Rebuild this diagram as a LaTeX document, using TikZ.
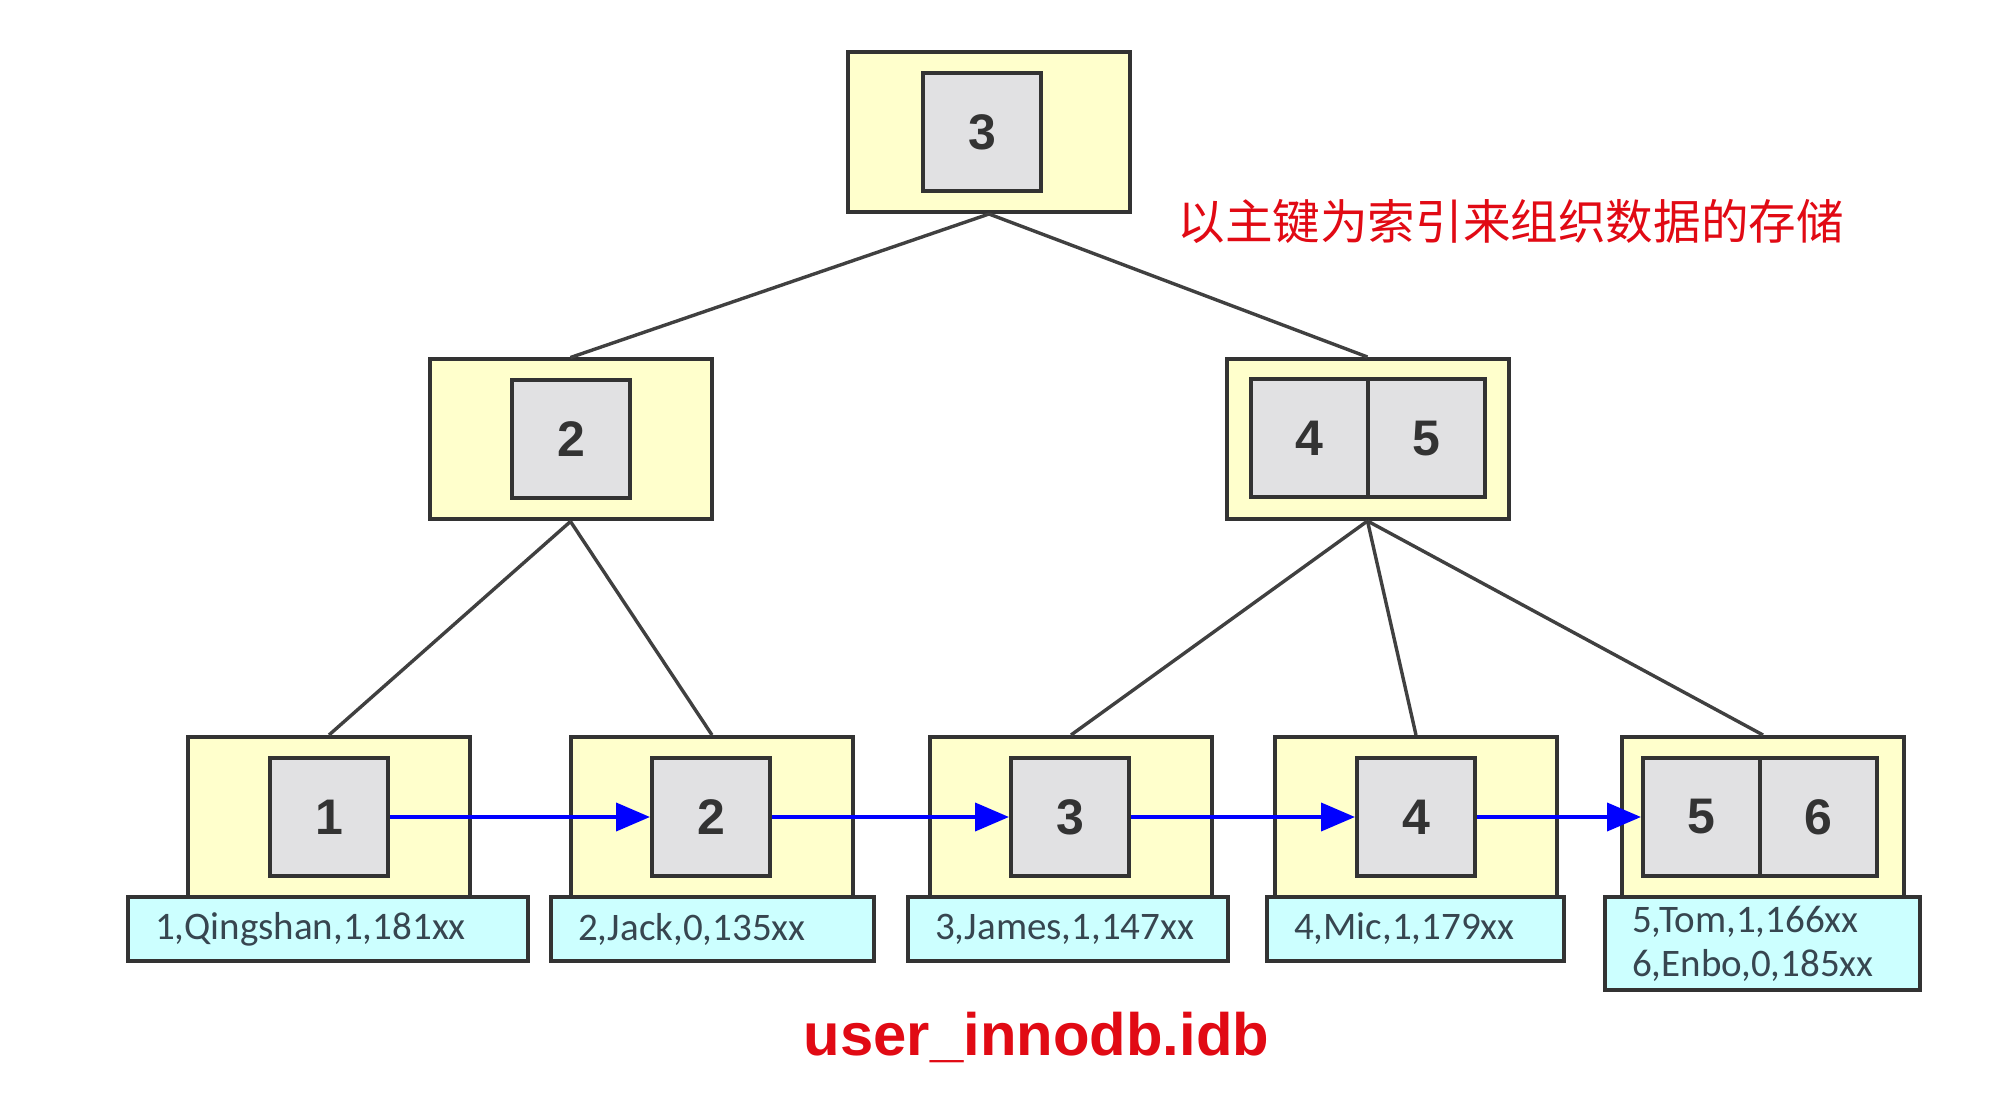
\documentclass[tikz,border=0pt]{standalone}
\usepackage{fontspec}
\setmainfont{Liberation Sans}
\newfontfamily\cjkfont{Noto Sans CJK SC}
\newfontfamily\cellfont{Carlito}
\usetikzlibrary{arrows.meta}
\definecolor{boxyellow}{RGB}{255,255,204}
\definecolor{keygray}{RGB}{225,225,227}
\definecolor{rowcyan}{RGB}{204,255,255}
\definecolor{edgegray}{RGB}{64,64,64}
\definecolor{outline}{RGB}{51,51,51}
\definecolor{keytext}{RGB}{51,51,51}
\definecolor{rowtext}{RGB}{55,70,80}
\definecolor{titlered}{RGB}{225,10,20}
\definecolor{linkblue}{RGB}{0,0,255}
\begin{document}
\begin{tikzpicture}[x=0.5pt,y=-0.5pt,
 pagebox/.style={draw=outline, fill=boxyellow, line width=2pt, inner sep=0pt, minimum width=141pt, minimum height=80pt},
 keybox/.style={draw=outline, fill=keygray, line width=2pt, inner sep=0pt, minimum width=59pt, minimum height=59pt, font=\bfseries\fontsize{25}{25}\selectfont, text=keytext},
 halfkey/.style={keybox, minimum width=58.5pt},
 rowbox/.style={draw=outline, fill=rowcyan, line width=2pt, inner xsep=13.5pt, inner ysep=0pt, minimum height=32pt, font=\cellfont\fontsize{19.5}{22}\selectfont, text=rowtext, align=left},
 treeedge/.style={draw=edgegray, line width=1.7pt},
 linkarrow/.style={draw=linkblue, line width=2pt, -{Triangle[length=17pt,width=14pt]}},
]
\useasboundingbox[fill=white] (0,0) rectangle (2010,1096);

% root
\node[pagebox] (root) at (989,132) {};
\node[keybox] (rootk) at (982,132.5) {3};
% middle level
\node[pagebox] (ml) at (570.5,439.5) {};
\node[keybox] (mlk) at (571,439) {2};
\node[pagebox] (mr) at (1367.5,439) {};
\node[halfkey] (mra) at (1309.5,438.5) {4};
\node[halfkey] (mrb) at (1426,438.5) {5};
% leaves
\node[pagebox] (l1) at (329,817) {};
\node[keybox] (k1) at (329,817) {1};
\node[pagebox] (l2) at (712,817) {};
\node[keybox] (k2) at (711,817) {2};
\node[pagebox] (l3) at (1071,817) {};
\node[keybox] (k3) at (1070,817) {3};
\node[pagebox] (l4) at (1416,817) {};
\node[keybox] (k4) at (1416,817) {4};
\node[pagebox] (l5) at (1763,817) {};
\node[halfkey] (k5) at (1701.5,817) {5};
\node[halfkey] (k6) at (1818.5,817) {6};
% rows
\node[rowbox, text width=173pt] (r1) at (328,929) {1,Qingshan,1,181xx};
\node[rowbox, text width=134.5pt] (r2) at (712.5,929) {2,Jack,0,135xx};
\node[rowbox, text width=133pt] (r3) at (1068,929) {3,James,1,147xx};
\node[rowbox, text width=121.5pt] (r4) at (1415.5,929) {4,Mic,1,179xx};
\node[rowbox, text width=130.5pt, minimum height=46.5pt] (r5) at (1762.5,943.5) {5,Tom,1,166xx\\6,Enbo,0,185xx};

% tree edges
\draw[treeedge] (root.south) -- (ml.north);
\draw[treeedge] (root.south) -- (mr.north);
\draw[treeedge] (ml.south) -- (l1.north);
\draw[treeedge] (ml.south) -- (l2.north);
\draw[treeedge] (mr.south) -- (l3.north);
\draw[treeedge] (mr.south) -- (l4.north);
\draw[treeedge] (mr.south) -- (l5.north);

% leaf links
\draw[linkarrow] (k1.east) -- (k2.west);
\draw[linkarrow] (k2.east) -- (k3.west);
\draw[linkarrow] (k3.east) -- (k4.west);
\draw[linkarrow] (k4.east) -- (k5.west);

% captions
\node[font=\cjkfont\fontsize{23.8}{24}\selectfont, text=titlered, anchor=west, inner sep=0pt] (note) at (1177,221) {以主键为索引来组织数据的存储};
\node[font=\bfseries\fontsize{29.9}{30}\selectfont, text=titlered, inner sep=0pt] (file) at (1036.5,1037) {user\_innodb.idb};
\end{tikzpicture}
\end{document}
